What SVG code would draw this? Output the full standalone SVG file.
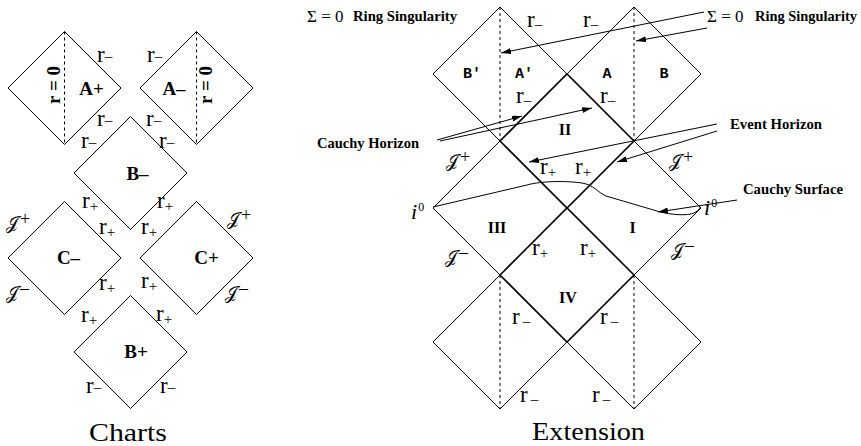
<svg xmlns="http://www.w3.org/2000/svg" width="861" height="446" viewBox="0 0 861 446">
<style>
.d{fill:none;stroke:#000;stroke-width:1}
.t{fill:none;stroke:#000;stroke-width:1.6}
.ds{fill:none;stroke:#000;stroke-width:1;stroke-dasharray:3,3}
.ar{fill:none;stroke:#000;stroke-width:1}
.lbl{font-family:"Liberation Serif",serif;font-weight:bold;font-size:19px}
.rr{font-family:"Liberation Serif",serif;font-size:23px}
.sub{font-size:15px}
.reg{font-family:"Liberation Serif",serif;font-weight:bold;font-size:16px}
.mono{font-family:"Liberation Mono",monospace;font-weight:bold;font-size:15px}
.ann{font-family:"Liberation Serif",serif;font-weight:bold;font-size:14.5px}
.sig{font-family:"Liberation Serif",serif;font-size:17px}
.cap{font-family:"Liberation Serif",serif;font-size:25px}
.scr{font-family:"DejaVu Serif","DejaVu Sans",serif;font-size:18px}
.sp{font-family:"Liberation Serif",serif;font-size:18px}
.it{font-family:"Liberation Serif",serif;font-style:italic;font-size:22px}
.sup{font-style:normal;font-size:12px}
</style>
<defs>
<marker id="ah" viewBox="0 0 10 6" refX="10" refY="3" markerWidth="10" markerHeight="6" markerUnits="userSpaceOnUse" orient="auto">
<path d="M0,0 L10,3 L0,6 z" fill="#000"/>
</marker>
</defs>

<!-- Charts -->
<g id="chart-Aplus">
<polygon class="d" points="8,88 64.5,31.5 121,88 64.5,144.5"/>
<line class="ds" x1="64.5" y1="31.5" x2="64.5" y2="144.5"/>
<text class="lbl" x="91.5" y="95" text-anchor="middle">A+</text>
<text class="lbl" font-size="15" transform="translate(60,85) rotate(-90)" text-anchor="middle">r = 0</text>
</g>
<g id="chart-Aminus">
<polygon class="d" points="140,88 196.5,31.5 253,88 196.5,144.5"/>
<line class="ds" x1="196.5" y1="31.5" x2="196.5" y2="144.5"/>
<text class="lbl" x="174" y="95" text-anchor="middle">A–</text>
<text class="lbl" font-size="15" transform="translate(212,85) rotate(-90)" text-anchor="middle">r = 0</text>
</g>
<g id="chart-Bminus">
<polygon class="d" points="74,173 130.5,116.5 187,173 130.5,229.5"/>
<text class="lbl" x="137.5" y="180" text-anchor="middle">B–</text>
</g>
<g id="chart-Cminus">
<polygon class="d" points="8,258 64.5,201.5 121,258 64.5,314.5"/>
<text class="lbl" x="68.5" y="264" text-anchor="middle">C–</text>
</g>
<g id="chart-Cplus">
<polygon class="d" points="140,258 196.5,201.5 253,258 196.5,314.5"/>
<text class="lbl" x="206.5" y="264" text-anchor="middle">C+</text>
</g>
<g id="chart-Bplus">
<polygon class="d" points="74,352 130.5,295.5 187,352 130.5,408.5"/>
<text class="lbl" x="136" y="358" text-anchor="middle">B+</text>
</g>
<g id="chart-labels">
<text class="rr" x="97" y="62">r<tspan class="sub" dy="-1">–</tspan></text>
<text class="rr" x="147" y="62">r<tspan class="sub" dy="-1">–</tspan></text>
<text class="rr" x="97" y="126">r<tspan class="sub" dy="-1">–</tspan></text>
<text class="rr" x="146" y="126">r<tspan class="sub" dy="-1">–</tspan></text>
<text class="rr" x="81" y="148">r<tspan class="sub" dy="-1">–</tspan></text>
<text class="rr" x="159" y="148">r<tspan class="sub" dy="-1">–</tspan></text>
<text class="rr" x="82" y="208">r<tspan class="sub" dy="3">+</tspan></text>
<text class="rr" x="157" y="208">r<tspan class="sub" dy="3">+</tspan></text>
<text class="rr" x="99" y="234">r<tspan class="sub" dy="3">+</tspan></text>
<text class="rr" x="141" y="234">r<tspan class="sub" dy="3">+</tspan></text>
<text class="rr" x="99" y="290">r<tspan class="sub" dy="3">+</tspan></text>
<text class="rr" x="141" y="288">r<tspan class="sub" dy="3">+</tspan></text>
<text class="rr" x="81" y="322">r<tspan class="sub" dy="3">+</tspan></text>
<text class="rr" x="156" y="321">r<tspan class="sub" dy="3">+</tspan></text>
<text class="rr" x="86" y="393">r<tspan class="sub" dy="-1">–</tspan></text>
<text class="rr" x="160" y="393">r<tspan class="sub" dy="-1">–</tspan></text>
<text class="scr" x="6" y="229">𝒥<tspan class="sp" dx="2" dy="-4">+</tspan></text>
<text class="scr" x="6" y="299">𝒥<tspan class="sp" dx="2" dy="-5">–</tspan></text>
<text class="scr" x="227" y="225">𝒥<tspan class="sp" dx="2" dy="-4">+</tspan></text>
<text class="scr" x="225" y="299">𝒥<tspan class="sp" dx="2" dy="-5">–</tspan></text>
<text class="cap" x="128" y="441" text-anchor="middle" textLength="78" lengthAdjust="spacingAndGlyphs">Charts</text>
</g>

<!-- Extension -->
<g id="ext-top-left">
<polygon class="d" points="433,74 500,7 567,74 500,141"/>
<line class="ds" x1="500" y1="7" x2="500" y2="141"/>
<text class="mono" x="472" y="78" text-anchor="middle">B′</text>
<text class="mono" x="524" y="78" text-anchor="middle">A′</text>
</g>
<g id="ext-top-right">
<polygon class="d" points="567,74 634,7 701,74 634,141"/>
<line class="ds" x1="634" y1="7" x2="634" y2="141"/>
<text class="mono" x="607" y="78" text-anchor="middle">A</text>
<text class="mono" x="664" y="78" text-anchor="middle">B</text>
</g>
<g id="ext-III">
<polygon class="d" points="433,208 500,141 567,208 500,275"/>
<text class="reg" x="497" y="233" text-anchor="middle">III</text>
</g>
<g id="ext-I">
<polygon class="d" points="567,208 634,141 701,208 634,275"/>
<text class="reg" x="632.5" y="233" text-anchor="middle">I</text>
</g>
<g id="ext-bottom-left">
<polygon class="d" points="433,342 500,275 567,342 500,409"/>
<line class="ds" x1="500" y1="275" x2="500" y2="409"/>
</g>
<g id="ext-bottom-right">
<polygon class="d" points="567,342 634,275 701,342 634,409"/>
<line class="ds" x1="634" y1="275" x2="634" y2="409"/>
</g>
<g id="ext-II">
<polygon class="t" points="500,141 567,74 634,141 567,208"/>
<text class="reg" x="565" y="135" text-anchor="middle">II</text>
</g>
<g id="ext-IV">
<polygon class="t" points="500,275 567,208 634,275 567,342"/>
<text class="reg" x="568" y="303" text-anchor="middle">IV</text>
</g>

<g id="ext-labels">
<text class="rr" x="527" y="27">r<tspan class="sub" dy="2">–</tspan></text>
<text class="rr" x="583" y="27">r<tspan class="sub" dy="2">–</tspan></text>
<text class="rr" x="516" y="103">r<tspan class="sub" dy="2">–</tspan></text>
<text class="rr" x="600" y="103">r<tspan class="sub" dy="2">–</tspan></text>
<text class="rr" x="540" y="174">r<tspan class="sub" dy="3">+</tspan></text>
<text class="rr" x="575" y="174">r<tspan class="sub" dy="3">+</tspan></text>
<text class="rr" x="532" y="255">r<tspan class="sub" dy="3">+</tspan></text>
<text class="rr" x="580" y="255">r<tspan class="sub" dy="3">+</tspan></text>
<text class="rr" x="512" y="324">r<tspan class="sub" dx="3" dy="2">–</tspan></text>
<text class="rr" x="600" y="324">r<tspan class="sub" dx="3" dy="2">–</tspan></text>
<text class="rr" x="520" y="402">r<tspan class="sub" dx="3" dy="2">–</tspan></text>
<text class="rr" x="592" y="402">r<tspan class="sub" dx="3" dy="2">–</tspan></text>
<text class="scr" x="446" y="167">𝒥<tspan class="sp" dx="2" dy="-4">+</tspan></text>
<text class="scr" x="669" y="167">𝒥<tspan class="sp" dx="2" dy="-4">+</tspan></text>
<text class="scr" x="445" y="263">𝒥<tspan class="sp" dx="2" dy="-5">–</tspan></text>
<text class="scr" x="671" y="256">𝒥<tspan class="sp" dx="2" dy="-5">–</tspan></text>
<text class="it" x="411" y="219">i<tspan class="sup" dx="1" dy="-8">0</tspan></text>
<text class="it" x="704" y="215">i<tspan class="sup" dx="1" dy="-8">0</tspan></text>
<text class="sig" x="307" y="22">Σ = 0</text>
<text class="ann" x="353" y="21" textLength="104" lengthAdjust="spacingAndGlyphs">Ring Singularity</text>
<text class="sig" x="707" y="22">Σ = 0</text>
<text class="ann" x="755" y="21" textLength="102" lengthAdjust="spacingAndGlyphs">Ring Singularity</text>
<text class="ann" x="317" y="148" textLength="102" lengthAdjust="spacingAndGlyphs">Cauchy Horizon</text>
<text class="ann" x="730" y="129" textLength="92" lengthAdjust="spacingAndGlyphs">Event Horizon</text>
<text class="ann" x="743" y="194" textLength="100" lengthAdjust="spacingAndGlyphs">Cauchy Surface</text>
<text class="cap" x="588.5" y="440" text-anchor="middle" textLength="113" lengthAdjust="spacingAndGlyphs">Extension</text>
</g>

<g id="connectors">
<path class="ar" d="M433,207 L527,185 C537,182 560,180 582,183 C594,185 597,192 606,196 L657,211 C670,215 688,216 694,213 C700,210 700,207 700,207"/>
<line class="ar" x1="704" y1="12" x2="501" y2="53" marker-end="url(#ah)"/>
<line class="ar" x1="707" y1="28" x2="636" y2="41" marker-end="url(#ah)"/>
<line class="ar" x1="437" y1="140" x2="522" y2="116" marker-end="url(#ah)"/>
<line class="ar" x1="440" y1="141" x2="592" y2="108" marker-end="url(#ah)"/>
<line class="ar" x1="717" y1="124" x2="529" y2="162" marker-end="url(#ah)"/>
<line class="ar" x1="717" y1="131" x2="617" y2="162" marker-end="url(#ah)"/>
<line class="ar" x1="737" y1="200" x2="658" y2="212" marker-end="url(#ah)"/>
</g>
</svg>
